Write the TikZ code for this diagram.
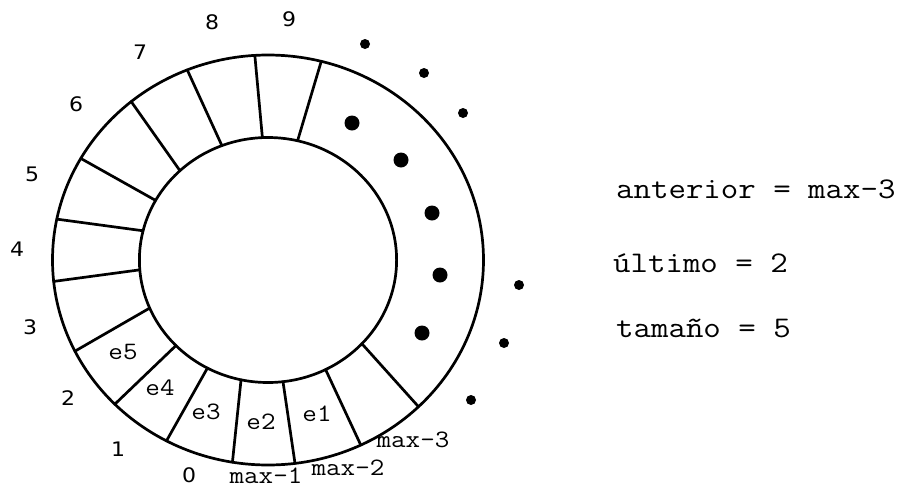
\documentclass[tikz,border=0pt]{standalone}
\usepackage{fontspec}
\usepackage{graphicx}
\newfontfamily\digfont{DejaVu Sans}
\newcommand\sx[1]{\scalebox{1.13}[1]{#1}}
\newcommand\sd[1]{\scalebox{1.1}[1]{#1}}
\begin{document}
\begin{tikzpicture}[x=1pt,y=-1pt,
  ring/.style={line width=2.7pt, black},
  idx/.style={font=\digfont\fontsize{20}{20}\selectfont, inner sep=0pt},
  slot/.style={font=\ttfamily\fontsize{25}{25}\selectfont, inner sep=0pt},
  info/.style={font=\ttfamily\fontsize{30}{30}\selectfont, inner sep=0pt, anchor=base west},
  bigdot/.style={fill=black, circle, minimum size=15pt, inner sep=0pt},
  smalldot/.style={fill=black, circle, minimum size=10pt, inner sep=0pt}]
\useasboundingbox (0,0) rectangle (911,488);
\coordinate (c) at (268,260);
\draw[ring] (c) ellipse [x radius=215.5, y radius=205];
\draw[ring] (c) ellipse [x radius=128.6, y radius=122.5];
\foreach \i/\o in {76.7/75.7, 92.5/93.5, 111/112, 133.2/129.4, 150.9/150.3,
  166.2/168.5, 184.6/186, 203.1/206.4, 224.3/224.7, 241.9/241.9,
  257.9/260.5, 276.7/277.2, 296.6/295.5, 316.9/314.3}
  \draw[ring, line cap=round] ({268+128.6*cos(\i)},{260-122.5*sin(\i)}) -- ({268+215.5*cos(\o)},{260-205*sin(\o)});
% index labels
\node[idx] (l9) at (289,19) {\sd{9}};
\node[idx] (l8) at (212,22) {\sd{8}};
\node[idx] (l7) at (140,52) {\sd{7}};
\node[idx] (l6) at (76,104) {\sd{6}};
\node[idx] (l5) at (32,174) {\sd{5}};
\node[idx] (l4) at (17,249) {\sd{4}};
\node[idx] (l3) at (30,327) {\sd{3}};
\node[idx] (l2) at (68,398) {\sd{2}};
\node[idx] (l1) at (118,449) {\sd{1}};
\node[idx] (l0) at (189,475) {\sd{0}};
\node[slot] (m1) at (266,476) {\sx{max-1}};
\node[slot] (m2) at (348,468) {\sx{max-2}};
\node[slot] (m3) at (413,440) {\sx{max-3}};
% slot contents
\node[slot] (e5) at (123,352) {\sx{e5}};
\node[slot] (e4) at (160,388) {\sx{e4}};
\node[slot] (e3) at (206,412) {\sx{e3}};
\node[slot] (e2) at (261,422) {\sx{e2}};
\node[slot] (e1) at (317,414) {\sx{e1}};
% dots
\node[bigdot] (b1) at (352,123) {};
\node[bigdot] (b2) at (401,160) {};
\node[bigdot] (b3) at (432,213) {};
\node[bigdot] (b4) at (440,275) {};
\node[bigdot] (b5) at (422,333) {};
\node[smalldot] (s1) at (365,44) {};
\node[smalldot] (s2) at (424,73) {};
\node[smalldot] (s3) at (463,113) {};
\node[smalldot] (s4) at (519,285) {};
\node[smalldot] (s5) at (504,343) {};
\node[smalldot] (s6) at (471,400) {};
% info text
\node[info] (ant) at (616,198) {\sx{anterior = max-3}};
\node[info] (ult) at (613,272) {\sx{último = 2}};
\node[info] (tam) at (616,337) {\sx{tamaño = 5}};
\end{tikzpicture}
\end{document}
